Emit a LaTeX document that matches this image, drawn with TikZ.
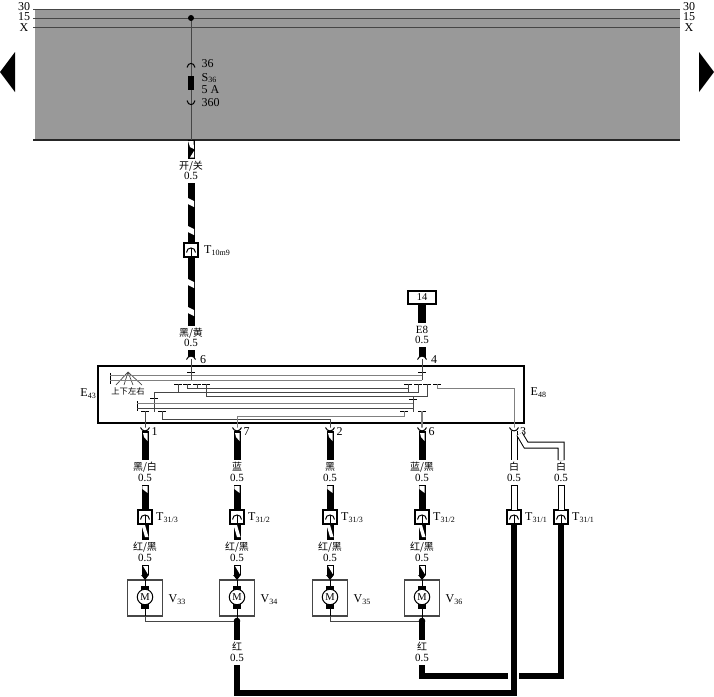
\documentclass[tikz,border=0pt]{standalone}
\usepackage{fontspec}
\setmainfont{Liberation Serif}
\newfontfamily\cjk{Noto Sans CJK SC}
\usetikzlibrary{positioning,arrows.meta}
\definecolor{bandgray}{RGB}{153,153,153}
\definecolor{lined}{RGB}{70,70,70}
\tikzset{
	txt/.style={font=\fontsize{12}{13}\selectfont,inner sep=0pt},
	cjklbl/.style={font=\cjk\fontsize{10}{11}\selectfont,inner sep=0pt,outer sep=2pt,text height=8pt,text depth=2pt},
	sizelbl/.style={font=\fontsize{11}{11}\selectfont,inner sep=0pt,outer sep=2pt,text height=8pt,text depth=2pt},
	wire/.style={line width=7pt,draw=black},
	fatwire/.style={line width=6pt,draw=black},
	whitewire/.style={draw=black,line width=1pt,double=white,double distance=5pt},
	connbox/.style={draw=black,fill=white,line width=1.1pt,minimum width=14pt,minimum height=14pt,inner sep=0pt,outer sep=0pt},
	motorbox/.style={draw=lined,fill=white,line width=1.1pt,minimum width=35pt,minimum height=36pt,inner sep=0pt,outer sep=0pt},
	swline/.style={draw=lined,line width=.7pt},
	swline2/.style={draw=black!50,line width=.8pt},
}
% white bar across a striped wire
\newcommand{\stripe}[2]{\fill[white] (#1-3,#2) -- (#1+3,#2+3) -- (#1+3,#2+9) -- (#1-3,#2+6) -- cycle;}
% socket arcs, open below and open above
\newcommand{\arcdown}[2]{\filldraw[fill=white,draw=black,line width=1pt] (#1-4.5,#2+3.5) .. controls (#1-3,#2-1) and (#1+3,#2-1) .. (#1+4.5,#2+3.5);}
\newcommand{\arcup}[2]{\filldraw[fill=white,draw=black,line width=1pt] (#1-4.5,#2-3.5) .. controls (#1-3,#2+1) and (#1+3,#2+1) .. (#1+4.5,#2-3.5);}
\begin{document}
\begin{tikzpicture}[x=1pt,y=-1pt]
	\useasboundingbox (0,0) rectangle (714,696);
	%Supply band
	\fill[bandgray] (35,9) rectangle (680,140);
	\coordinate (L30) at (33,9);
	\coordinate (R30) at (680,9);
	\coordinate (L15) at (33,18);
	\coordinate (R15) at (680,18);
	\coordinate (LX) at (33,27);
	\coordinate (RX) at (680,27);
	\coordinate (LB) at (33,140);
	\coordinate (RB) at (680,140);
	\draw[lined,line width=1pt] (L30) -- (R30);
	\draw[lined,line width=1pt] (L15) -- (R15);
	\draw[lined,line width=1pt] (LX) -- (RX);
	\draw[black!85,line width=1.2pt] (LB) -- (RB);
	\node[txt] (n30l) at (24,6.5) {30};
	\node[txt] (n15l) at (24,17) {15};
	\node[txt] (nXl) at (24,28) {X};
	\node[txt] (n30r) at (689,6.5) {30};
	\node[txt] (n15r) at (689,17) {15};
	\node[txt] (nXr) at (689,28) {X};
	\fill (0,72) -- (15,52) -- (15,92) -- cycle;
	\fill (714,72) -- (699,52) -- (699,92) -- cycle;
	%Fuse
	\coordinate (busdot) at (191,18);
	\coordinate (busout) at (191,140);
	\draw[lined,line width=1pt] (busdot) -- (busout);
	\fill (busdot) circle (3pt);
	\node[fill=black,minimum width=6.5pt,minimum height=14pt,inner sep=0pt] (S36) at (191,82.5) {};
	\draw[black,line width=1pt] (187,67.5) .. controls (188,62) and (194,62) .. (195,67.5);
	\draw[black,line width=1pt] (187,100.5) .. controls (188,106) and (194,106) .. (195,100.5);
	\node[txt,anchor=west] (f36) at (201.5,64) {36};
	\node[txt,anchor=west] (fS) at (201.5,78) {S\textsubscript{36}};
	\node[txt,anchor=west] (f5A) at (201.5,90) {5 A};
	\node[txt,anchor=west] (f360) at (201.5,103) {360};
	%Upper feed
	\node[cjklbl] (kg) at (191,166) {开/关};
	\node[sizelbl] (kgs) at (191,176) {0.5};
	\node[connbox] (T10) at (191,250) {};
	\node[cjklbl] (hh) at (191,333) {黑/黄};
	\node[sizelbl] (hhs) at (191,343) {0.5};
	\coordinate (pinA) at (191,359);
	\node[txt,anchor=west] (pinAn) at (200,360) {6};
	\node[txt,anchor=west] (T10n) at (204,250.5) {T\textsubscript{10m9}};
	\draw[wire] (busout) -- (kg.north);
	\draw[wire] (kgs.south) -- (T10.north);
	\draw[wire] (T10.south) -- (hh.north);
	\draw[wire] (hhs.south) -- (pinA);
	\fill[white] (188,141) -- (193.5,141) -- (194,149) -- (190,147) -- cycle;
	\fill[white] (194,151) -- (194,157.5) -- (190,157.5) -- cycle;
	\stripe{191}{198}
	\stripe{191}{226}
	\stripe{191}{279}
	\stripe{191}{307}
	\arcdown{191}{356}
	%Feed 14
	\node[draw=black,fill=white,line width=1.1pt,minimum width=28pt,minimum height=13pt,inner sep=0pt,font=\fontsize{10.5}{11}\selectfont] (K14) at (422,297.5) {14};
	\node[sizelbl] (E8) at (422,330) {E8};
	\node[sizelbl] (E8s) at (422,340) {0.5};
	\coordinate (pinB) at (422,359);
	\node[txt,anchor=west] (pinBn) at (431,360) {4};
	\draw[line width=8pt] (K14.south) -- (E8.north);
	\draw[wire] (E8s.south) -- (pinB);
	\arcdown{422}{356}
	%Switch
	\node[draw=black,line width=1.3pt,minimum width=426pt,minimum height=57pt,inner sep=0pt] (SW) at (311,394.5) {};
	\node[txt,anchor=east] (E43) at (96.5,394) {E\textsubscript{43}};
	\node[txt,anchor=west] (E48) at (530.5,393) {E\textsubscript{48}};
	\coordinate (fan) at (128,372);
	\draw[swline] (fan) -- (116,385);
	\draw[swline] (fan) -- (124,385);
	\draw[swline] (fan) -- (133,385);
	\draw[swline] (fan) -- (142,385);
	\node[font=\cjk\fontsize{8.3}{9}\selectfont,inner sep=0pt] (dirs) at (128,391.5) {上下左右};
	\draw[black,line width=1pt] (110,373) -- (110,384);
	\draw[black,line width=1pt] (137,401) -- (137,411);
	\foreach \n/\x/\y in {a/178/384,b/187/384,c/197/384,d/206/384,e/408/384,f/418/384,g/427/384,h/437/384,i/145/411,j/162/411,k/404/411,l/422/411,p/191/372,q/422/372,r/154/398,s/413/399}{
		\coordinate (tb\n) at (\x,\y);
		\draw[black,line width=1pt] (\x-4,\y) -- (\x+4,\y);
	}
	\draw[swline2] (110,375) -- (422,375);
	\draw[swline2] (110,380) -- (422,380);
	\draw[swline] (pinA) -- (191,380);
	\draw[swline] (pinB) -- (422,380);
	\draw[swline] (tbc) -- (197,388);
	\draw[swline] (tba) -- (178,392);
	\draw[swline] (tbb) |- (tbe |- 0,388);
	\draw[swline] (tbe) -- (408,392);
	\draw[swline] (154,412) -- (154,392) -| (tbf);
	\draw[swline] (tbd) |- (427,396) -- (tbg);
	\draw[swline] (413,396) -- (413,412);
	\draw[swline2] (137,403) -- (413,403);
	\draw[swline] (137,408) -- (413,408);
	\coordinate (P1) at (145,431);
	\coordinate (P2) at (237,431);
	\coordinate (P3) at (330,431);
	\coordinate (P4) at (422,431);
	\coordinate (P5) at (514,431);
	\draw[swline] (tbi) -- (P1);
	\draw[swline] (tbj) |- (330,419) -- (P3);
	\draw[swline2] (tbk) |- (237,416) -- (P2);
	\draw[black!50,line width=1.3pt] (tbl) -- (P4);
	\draw[swline2] (tbh) |- (P5 |- 0,388) -- (P5);
	%Motor columns
	\foreach \n/\x/\pin/\col/\tsub/\vsub in {1/145/1/黑\slash 白/31\slash 3/33,2/237/7/蓝/31\slash 2/34,3/330/2/黑/31\slash 3/35,4/422/6/蓝\slash 黑/31\slash 2/36}{
		\node[cjklbl] (Wc\n) at (\x,467) {\col};
		\node[sizelbl] (Ws\n) at (\x,478) {0.5};
		\node[connbox] (T\n) at (\x,517) {};
		\node[txt,right=4pt of T\n,yshift=-1pt] (Tn\n) {T\textsubscript{\tsub}};
		\node[cjklbl] (Rc\n) at (\x,547) {红/黑};
		\node[sizelbl] (Rs\n) at (\x,558) {0.5};
		\node[motorbox] (B\n) at (\x,598) {};
		\node[txt,right=6pt of B\n,yshift=-1.5pt] (Vn\n) {V\textsubscript{\vsub}};
		\node[txt,anchor=west] (Pn\n) at (\x+6.5,432) {\pin};
		\draw[wire] (P\n) -- (Wc\n.north);
		\draw[wire] (Ws\n.south) -- (T\n.north);
		\draw[wire] (T\n.south) -- (Rc\n.north);
		\draw[wire,-{Triangle[length=5pt,width=7.5pt,sep=0pt]}] (Rs\n.south) -- (B\n.north);
		\arcup{\x}{431}
		\fill[white] (\x-2,433) -- (\x+2.5,433) -- (\x+2.5,441) -- (\x-1,437) -- cycle;
		\fill[white] (\x-2.6,486) -- (\x+2.6,486) -- (\x+2.6,493) -- (\x-2.6,489) -- cycle;
		\fill[white] (\x-3.5,525) -- (\x,525) -- (\x+3.5,537) -- (\x,537) -- cycle;
		\fill[white] (\x-2,566) -- (\x+2.8,566) -- (\x+2.8,574) -- cycle;
		%motor
		\draw[black,line width=1pt] (B\n.north) -- (B\n.south);
		\fill (\x-4.3,585.5) rectangle (\x+4.3,609);
		\node[circle,draw=black,fill=white,line width=1pt,minimum size=15.5pt,inner sep=0pt,font=\fontsize{10.5}{11}\selectfont] (M\n) at (\x,597) {M};
	}
	%Motor return
	\coordinate (J2) at (237,621);
	\coordinate (J4) at (422,621);
	\draw[swline] (B1.south) |- (J2);
	\draw[swline] (B3.south) |- (J4);
	\draw[black,line width=1pt] (B2.south) -- (J2);
	\draw[black,line width=1pt] (B4.south) -- (J4);
	\fill (J2) circle (3.3pt);
	\fill (J4) circle (3.3pt);
	\node[cjklbl] (Rd2) at (237,647) {红};
	\node[sizelbl] (Rt2) at (237,658) {0.5};
	\node[cjklbl] (Rd4) at (422,647) {红};
	\node[sizelbl] (Rt4) at (422,658) {0.5};
	\coordinate (C1) at (517,693);
	\coordinate (C2) at (508,676);
	\coordinate (C3) at (519,676);
	\draw[fatwire] (J2) -- (Rd2.north);
	\draw[fatwire] (J4) -- (Rd4.north);
	\draw[fatwire] (Rt2.south) |- (C1);
	\draw[fatwire] (Rt4.south) |- (C2);
	%White pair
	\node[cjklbl] (Wa) at (514,467) {白};
	\node[sizelbl] (Wb) at (514,478) {0.5};
	\node[cjklbl] (Xa) at (561,467) {白};
	\node[sizelbl] (Xb) at (561,478) {0.5};
	\node[connbox] (T5) at (514,517) {};
	\node[connbox] (T6) at (561,517) {};
	\node[txt,right=4pt of T5,yshift=-1pt] (Tn5) {T\textsubscript{31\slash 1}};
	\node[txt,right=4pt of T6,yshift=-1pt] (Tn6) {T\textsubscript{31\slash 1}};
	\node[txt,anchor=west] (Pn5) at (520,431.5) {3};
	\coordinate (Y1) at (519.5,434);
	\coordinate (Y2) at (526,445);
	\coordinate (Y3) at (561,445);
	\draw[whitewire] (P5) -- (Wa.north);
	\draw[whitewire] (Y1) -- (Y2) -- (Y3) -- (Xa.north);
	\draw[whitewire] (Wb.south) -- (T5.north);
	\draw[whitewire] (Xb.south) -- (T6.north);
	\draw[black,line width=1pt] (510.5,485) -- (517.5,485);
	\draw[black,line width=1pt] (557.5,485) -- (564.5,485);
	\arcup{514}{431}
	\draw[fatwire] (T5.south) -- (514,696);
	\draw[fatwire] (T6.south) |- (C3);
	%Connector marks
	\foreach \x/\y in {191/250,145/517,237/517,330/517,422/517,514/517,561/517}{
		\draw[black,line width=1pt] (\x-4.5,\y+2.5) .. controls (\x-4.5,\y-3.5) and (\x+4.5,\y-3.5) .. (\x+4.5,\y+2.5);
		\draw[black,line width=.8pt] (\x,\y-2) -- (\x,\y+7);
	}
\end{tikzpicture}
\end{document}
